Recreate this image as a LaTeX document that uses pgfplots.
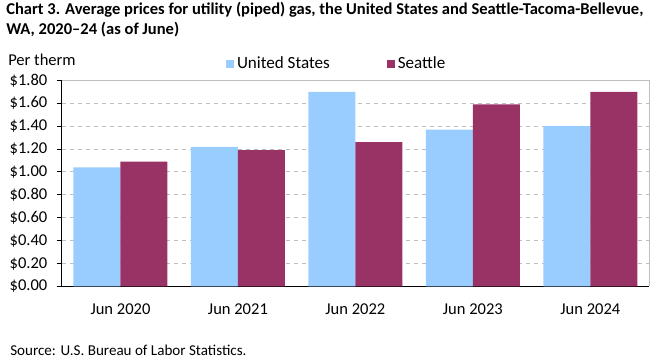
\documentclass[border=0pt]{standalone}
\usepackage{pgfplots}
\pgfplotsset{compat=1.18}
\usepackage{fontspec}
\setmainfont{Carlito}
\definecolor{usblue}{HTML}{99CCFF}
\definecolor{seapurple}{HTML}{993366}
\definecolor{framegray}{HTML}{BFBFBF}
\begin{document}
\begin{tikzpicture}
\path[use as bounding box] (0,0) rectangle (495.75pt,270.75pt);
\node[anchor=north west, inner sep=0pt, align=left, font=\fontsize{12.4}{14.6}\selectfont\bfseries] at (4.5pt,269pt)
  {Chart 3. Average prices for utility (piped) gas, the United States and Seattle-Tacoma-Bellevue,\\WA, 2020--24 (as of June)};
\node[anchor=west, inner sep=0pt, font=\fontsize{12.4}{13}\selectfont] at (6pt,225.75pt) {Per therm};
\node[anchor=west, inner sep=0pt, font=\fontsize{11.3}{12}\selectfont] at (7.5pt,8.25pt) {Source: U.S. Bureau of Labor Statistics.};
\begin{axis}[
  at={(46.3pt,55.9pt)}, anchor=south west,
  scale only axis, width=440.5pt, height=154.6pt,
  xmin=-0.5, xmax=4.5, ymin=0, ymax=1.8,
  axis x line*=bottom, axis y line*=left,
  axis line style={-, black, line width=0.75pt},
  xtick={0,1,2,3,4},
  xticklabels={Jun 2020, Jun 2021, Jun 2022, Jun 2023, Jun 2024},
  xtick style={draw=none},
  ytick={0,0.2,0.4,0.6,0.8,1.0,1.2,1.4,1.6,1.8},
  yticklabels={\$0.00,\$0.20,\$0.40,\$0.60,\$0.80,\$1.00,\$1.20,\$1.40,\$1.60,\$1.80},
  tick align=outside, major tick length=3.75pt,
  ytick style={black, line width=0.75pt},
  ymajorgrids, major grid style={framegray, line width=0.75pt, dash pattern=on 3.5pt off 2.5pt},
  ticklabel style={font=\fontsize{12.4}{13}\selectfont},
  xticklabel style={yshift=-5.5pt},
  yticklabel style={xshift=-3.5pt},
  ybar, bar width=0.4,
  legend style={at={(rel axis cs:0.469,1.079)}, anchor=center, draw=none, fill=none,
    legend columns=2, font=\fontsize{12.8}{13}\selectfont,
    /tikz/every even column/.append style={column sep=41pt}},
  legend image code/.code={\fill[#1] (0pt,-3pt) rectangle (6pt,3pt);},
  clip=false,
]
\addplot[fill=usblue, draw=none, bar shift=-0.2] coordinates {(0,1.04) (1,1.22) (2,1.70) (3,1.37) (4,1.40)};
\addlegendentry{United States}
\addplot[fill=seapurple, draw=none, bar shift=0.2] coordinates {(0,1.09) (1,1.19) (2,1.26) (3,1.59) (4,1.70)};
\addlegendentry{Seattle}
\draw[framegray, line width=0.75pt] (rel axis cs:0,1) -- (rel axis cs:1,1) -- (rel axis cs:1,0);
\end{axis}
\end{tikzpicture}
\end{document}
